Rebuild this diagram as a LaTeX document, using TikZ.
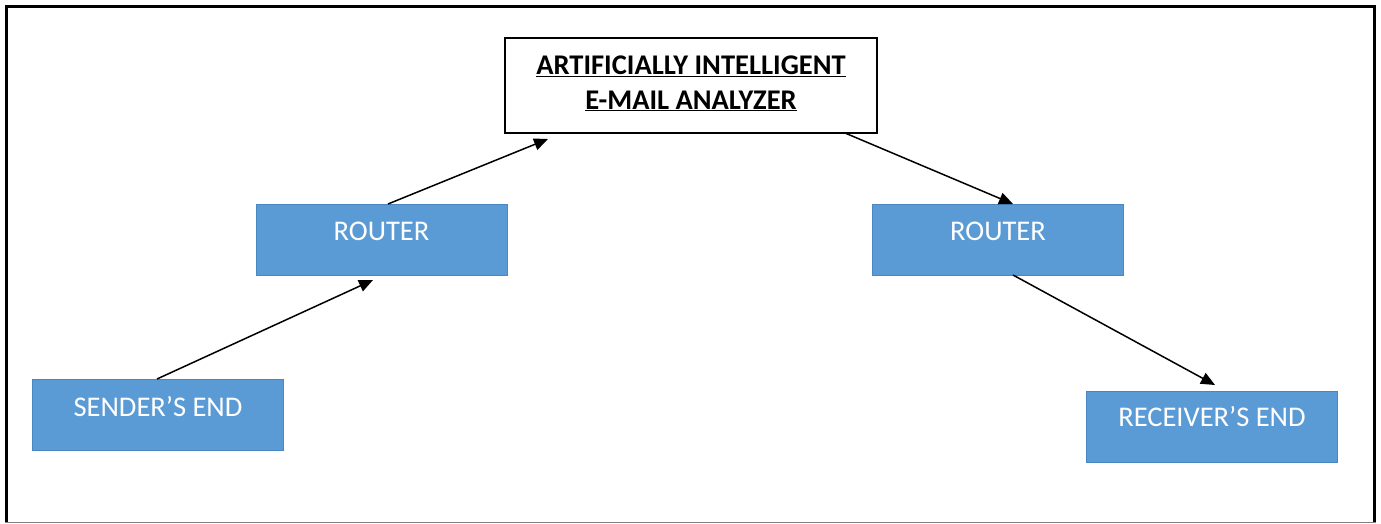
\documentclass[tikz,border=0pt]{standalone}
\usepackage{fontspec}
\setmainfont{Carlito}
\usetikzlibrary{arrows.meta}
\definecolor{boxblue}{HTML}{5B9BD5}
\definecolor{boxedge}{HTML}{4A86C0}
\tikzset{
  bluebox/.style={draw=boxedge, line width=1pt, fill=boxblue, minimum width=251pt, minimum height=71pt, inner sep=0pt},
  bluetext/.style={text=white, font=\fontsize{28.5}{32}\selectfont, inner sep=0pt},
  conn/.style={line width=1.5pt, -{Triangle[length=14pt,width=12pt]}},
}
\begin{document}
\begin{tikzpicture}[x=1pt,y=-1pt]
\useasboundingbox (0,0) rectangle (1381,524);
\fill[white] (0,0) rectangle (1381,524);
\draw[line width=3pt] (6.5,522) -- (6.5,6.5) -- (1374.5,6.5) -- (1374.5,522);
\draw[line width=1pt, gray] (5,522) -- (1376,522);

\node[bluebox] (sender) at (158,414.5) {};
\node[bluetext] (sendert) at (158,407) {SENDER’S END};
\node[bluebox] (router1) at (381.5,239.5) {};
\node[bluetext] (router1t) at (381.5,231) {ROUTER};
\node[bluebox] (router2) at (998,239.5) {};
\node[bluetext] (router2t) at (998,231) {ROUTER};
\node[bluebox] (receiver) at (1212,426.5) {};
\node[bluetext] (receivert) at (1212,417) {RECEIVER’S END};

\node[draw=black, line width=1.5pt, fill=white, minimum width=372pt, minimum height=95pt, inner sep=0pt] (ai) at (691,85.5) {};
\node[font=\bfseries\fontsize{28.5}{32}\selectfont, inner sep=0pt] (ait1) at (691,66) {\underline{ARTIFICIALLY INTELLIGENT}};
\node[font=\bfseries\fontsize{28.5}{32}\selectfont, inner sep=0pt] (ait2) at (691,101) {\underline{E-MAIL ANALYZER}};

\coordinate (a1s) at (157,379);
\coordinate (a1e) at (373,280);
\coordinate (a2s) at (388,204);
\coordinate (a2e) at (548,139);
\coordinate (a3s) at (845,133);
\coordinate (a3e) at (1013,204);
\coordinate (a4s) at (1013,275);
\coordinate (a4e) at (1215,385);
\draw[conn] (a1s) -- (a1e);
\draw[conn] (a2s) -- (a2e);
\draw[conn] (a3s) -- (a3e);
\draw[conn] (a4s) -- (a4e);
\end{tikzpicture}
\end{document}
